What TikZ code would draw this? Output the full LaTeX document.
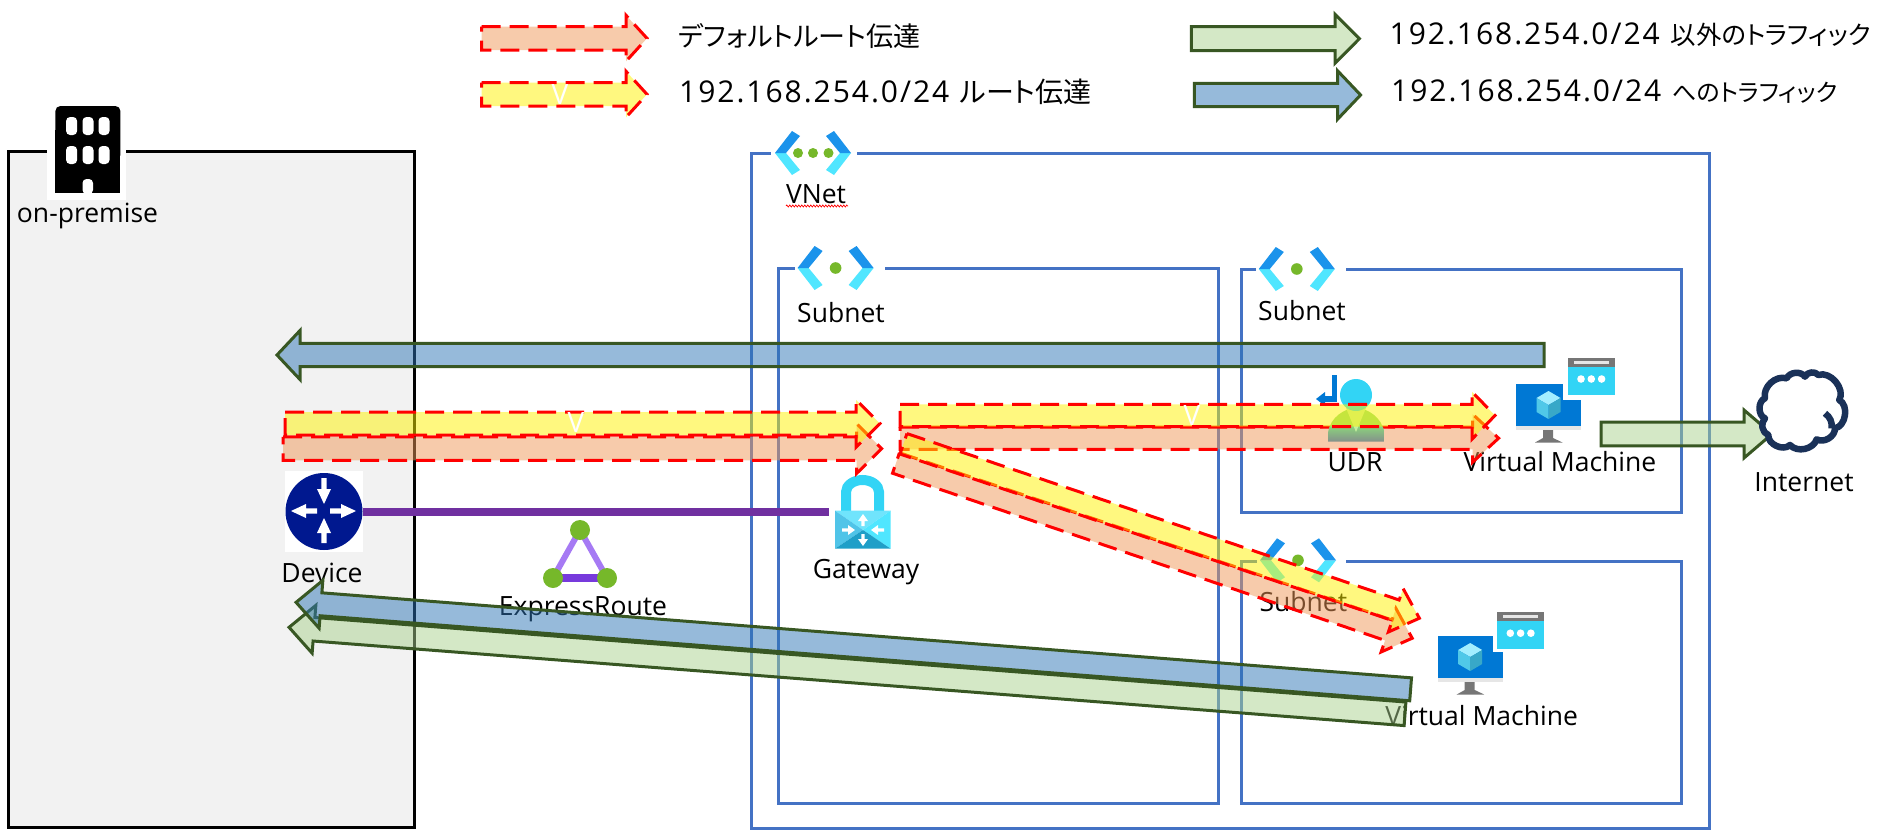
\documentclass[tikz,border=0pt]{standalone}
\usepackage{fontspec}
\setmainfont{Open Sans}
\newfontfamily\jpfont[RawFeature=+palt]{Noto Sans CJK JP}
\newfontfamily\numfont[LetterSpace=6.5]{Open Sans}
\usetikzlibrary{calc,decorations.pathmorphing}
\definecolor{boxblue}{HTML}{4472C4}
\definecolor{dkgreen}{HTML}{385723}
\definecolor{chevdk}{HTML}{1B93EB}
\definecolor{chevlt}{HTML}{50E6FF}
\definecolor{dotgreen}{HTML}{76B82A}
\definecolor{purpleline}{HTML}{7030A0}
\definecolor{cyanicon}{HTML}{32D4F5}
\definecolor{monblue}{HTML}{0078D4}
\definecolor{navy}{HTML}{1A3158}
\definecolor{salmonf}{HTML}{F09858}
\definecolor{greenf}{HTML}{A9D18E}
\definecolor{bluef}{HTML}{2E75B6}
\definecolor{premf}{HTML}{F2F2F2}
\definecolor{routerb}{HTML}{00188F}
\definecolor{erlilac}{HTML}{A67AF4}
\definecolor{erviolet}{HTML}{773ADC}
\definecolor{udrgreen}{HTML}{8CD97B}
\definecolor{udrgray}{HTML}{84908C}
\definecolor{udrneck}{HTML}{C4EFA0}
\definecolor{cubetop}{HTML}{A3EEFF}
\definecolor{cubeleft}{HTML}{50C8E8}
\definecolor{cuberight}{HTML}{38A8C8}
\definecolor{locktop}{HTML}{70E4FC}
\definecolor{lockleft}{HTML}{50C4E8}
\definecolor{lockbot}{HTML}{1F9FC8}
\definecolor{icongray}{HTML}{767676}
\definecolor{iconlt}{HTML}{E6E6E6}
\newcommand{\jptext}[2]{{\jpfont\fontsize{#1}{28}\selectfont #2}}
\newcommand{\numtext}[1]{{\numfont\fontsize{30}{32}\selectfont #1}\hspace{11pt}}
\tikzset{
  x=1pt,y=1pt,
  box/.style={draw=boxblue,line width=3pt},
  defarrow/.style={draw=red,line width=3pt,dash pattern=on 19pt off 9pt,fill=salmonf,fill opacity=.5},
  yelarrow/.style={draw=red,line width=3pt,dash pattern=on 19pt off 9pt,fill=yellow,fill opacity=.5},
  grnarrow/.style={draw=dkgreen,line width=3pt,fill=greenf,fill opacity=.5},
  bluarrow/.style={draw=dkgreen,line width=3pt,fill=bluef,fill opacity=.5},
  whitearrow/.style={draw=none,fill=white},
  lbl/.style={inner sep=0pt,font=\fontsize{26.5}{28}\selectfont},
  leg/.style={inner sep=0pt,anchor=west},
  vmark/.style={inner sep=0pt,text=white,font=\fontsize{28}{28}\selectfont},
}
% tail centre, tip centre, half body, half head, head length
\newcommand{\barrow}[8]{%
  \pgfmathsetmacro{\myang}{atan2((#5)-(#3),(#4)-(#2))}%
  \pgfmathsetmacro{\mylen}{veclen(((#4)-(#2))/10,((#5)-(#3))/10)*10}%
  \pgfmathsetmacro{\mybase}{\mylen-(#8)}%
  \draw[#1,shift={(#2,#3)},rotate=\myang] (0,-#6) -- (\mybase,-#6) -- (\mybase,-#7) -- (\mylen,0) -- (\mybase,#7) -- (\mybase,#6) -- (0,#6) -- cycle;}
% network icon: centre
\newcommand{\chevrons}[2]{%
  \begin{scope}[shift={(#1,#2)}]
    \fill[chevlt] (-38,0) -- (-27,0) -- (-13,17) -- (-21,22) -- cycle;
    \fill[chevlt] (38,0) -- (27,0) -- (13,17) -- (21,22) -- cycle;
    \fill[chevdk] (-38,0) -- (-21,-22) -- (-13,-17) -- (-27,0) -- cycle;
    \fill[chevdk] (38,0) -- (21,-22) -- (13,-17) -- (27,0) -- cycle;
  \end{scope}}
% monitor x,y; window x,y; notch width
\newcommand{\vmicon}[5]{%
  \begin{scope}[shift={(#1,#2)}]
    \fill[iconlt] (0,41) rectangle (65,46);
    \fill[monblue] (0,0) rectangle (65,41.5);
    \fill[white] (65-#5,-1) rectangle (66,16);
    \fill[icongray] (27,46) -- (37,46) -- (37,54) -- (46.5,58.5) -- (19,58.5) -- (27,54) -- cycle;
    \begin{scope}[shift={(32.5,21)}]
      \fill[cubetop] (0,-14) -- (12,-7) -- (0,0) -- (-12,-7) -- cycle;
      \fill[cubeleft] (-12,-7) -- (0,0) -- (0,14) -- (-12,7) -- cycle;
      \fill[cuberight] (12,-7) -- (0,0) -- (0,14) -- (12,7) -- cycle;
    \end{scope}
  \end{scope}
  \begin{scope}[shift={(#3,#4)}]
    \fill[cyanicon] (0,0) rectangle (46.5,37);
    \fill[icongray] (0,0) rectangle (46.5,9.5);
    \fill[iconlt] (6,3) rectangle (40.5,6.5);
    \fill[white] (13,21.5) circle (3.8) (23.3,21.5) circle (3.8) (33.6,21.5) circle (3.8);
  \end{scope}}
\begin{document}
\begin{tikzpicture}[yscale=-1]
\useasboundingbox (0,0) rectangle (1888,838);
% on-premise
\node[draw=black,line width=3pt,fill=premf,minimum width=406.5pt,minimum height=675.5pt,inner sep=0pt] (onprem) at (211.7,489.3) {};
\fill[white] (47,118) rectangle (126,200);
\fill[black,rounded corners=5pt] (55.4,106) rectangle (120.4,160);
\fill[black] (55.4,130) rectangle (120.4,193);
\foreach \wx in {71.6,88,104}{
  \fill[white,rounded corners=4pt] (\wx-5.5,117) rectangle (\wx+5.5,135);
  \fill[white,rounded corners=4pt] (\wx-5.5,146) rectangle (\wx+5.5,164);}
\fill[white,rounded corners=4pt] (82.5,194) -- (82.5,179) -- (93,179) -- (93,194) -- cycle;
\node[lbl] (onpremlbl) at (87.5,216) {on-premise};
% vnet and subnets
\node[box,minimum width=958pt,minimum height=674.7pt,inner sep=0pt] (vnet) at (1230,490.7) {};
\node[box,minimum width=440pt,minimum height=535pt,inner sep=0pt] (subneta) at (998.5,535.8) {};
\node[box,minimum width=440pt,minimum height=243pt,inner sep=0pt] (subnetb) at (1461.5,390.8) {};
\node[box,minimum width=440pt,minimum height=241.6pt,inner sep=0pt] (subnetc) at (1461.5,682.5) {};
\fill[white] (770.6,146) rectangle (857,160);
\fill[white] (795,262) rectangle (885,275);
\fill[white] (1256,262) rectangle (1346,276);
\fill[white] (1257,555) rectangle (1346,568);
\chevrons{813}{153}
\fill[dotgreen] (798,153) circle (5) (813,153) circle (5) (828.5,153) circle (5);
\chevrons{835.6}{268}
\fill[dotgreen] (835.6,268) circle (5.8);
\chevrons{1296.8}{269}
\fill[dotgreen] (1296.8,269) circle (5.8);
\chevrons{1298}{560.3}
\fill[dotgreen] (1298,560.3) circle (5.8);
\node[lbl] (vnetlbl) at (816,194) {VNet};
\draw[red,line width=.7pt,decorate,decoration={zigzag,amplitude=1pt,segment length=3pt}] (786,206) -- (848,206);
\node[lbl] (subalbl) at (841,313) {Subnet};
\node[lbl] (subblbl) at (1302,311) {Subnet};
\node[lbl] (subclbl) at (1303.4,602) {Subnet};
% device
\fill[white] (285,470.7) rectangle (363,551.7);
\node[circle,fill=routerb,minimum size=77pt,inner sep=0pt] (device) at (324,511.5) {};
\barrow{whitearrow}{324}{478}{324}{504}{2.6}{7}{15}
\barrow{whitearrow}{324}{543}{324}{518}{2.6}{7}{15}
\barrow{whitearrow}{317}{511}{291}{511}{2.6}{7}{15}
\barrow{whitearrow}{330}{511}{356}{511}{2.6}{7}{15}
\node[lbl] (devicelbl) at (322,573) {Device};
% gateway
\draw[cyanicon,line width=10pt] (846,511) -- (846,492) arc[start angle=180,end angle=360,x radius=16.5,y radius=12] -- (879,511);
\coordinate (lockc) at (863,530);
\fill[locktop] (835,510.7) -- (890.7,510.7) -- (lockc) -- cycle;
\fill[lockleft] (835,510.7) -- (835,548.7) -- (lockc) -- cycle;
\fill[chevlt] (890.7,510.7) -- (890.7,548.7) -- (lockc) -- cycle;
\fill[lockbot] (835,548.7) -- (890.7,548.7) -- (lockc) -- cycle;
\node[inner sep=0pt,minimum size=0pt] (gateway) at (829,511.5) {};
\barrow{whitearrow}{863}{526}{863}{514}{1.6}{5}{7}
\barrow{whitearrow}{863}{534}{863}{546}{1.6}{5}{7}
\barrow{whitearrow}{842}{530}{855}{530}{1.6}{5}{7}
\barrow{whitearrow}{884}{530}{871}{530}{1.6}{5}{7}
\node[lbl] (gatewaylbl) at (866,572) {Gateway};
\draw[purpleline,line width=8pt] (device.east) -- (gateway.center);
% expressroute
\coordinate (ertop) at (580,530);
\coordinate (erleft) at (553,578);
\coordinate (erright) at (607,578);
\draw[erlilac,line width=6pt] (erleft) -- (ertop) -- (erright);
\draw[erviolet,line width=8pt] (erleft) -- (erright);
\fill[dotgreen] (ertop) circle (10) (erleft) circle (10) (erright) circle (10);
\node[lbl] (erlbl) at (583,609) {ExpressRoute};
\node[lbl] (udrlbl) at (1355,462) {UDR};
% virtual machines
\vmicon{1516}{384}{1568}{357.5}{18}
\node[lbl] (vmalbl) at (1560,462) {Virtual Machine};
\vmicon{1437.7}{636}{1497.3}{611.7}{9.4}
\node[lbl] (vmblbl) at (1481.6,716) {Virtual Machine};
% legend
\barrow{defarrow}{481.6}{38.3}{647}{38.3}{11.7}{23}{21}
\barrow{yelarrow}{481.6}{94.3}{647}{94.3}{11.7}{23}{21}
\node[vmark] (v1) at (560,95) {V};
\node[leg] (leg1) at (678.5,36) {\jptext{27}{デフォルトルート伝達}};
\node[leg] (leg2) at (679,92) {\numtext{192.168.254.0/24}\jptext{28}{ルート伝達}};
\barrow{grnarrow}{1191.4}{38.7}{1359.4}{38.7}{12}{24.5}{24.4}
\barrow{bluarrow}{1194.4}{95}{1360.6}{95}{11.7}{24.2}{23}
\node[leg] (leg3) at (1389.5,35) {\numtext{192.168.254.0/24}\jptext{25.4}{以外のトラフィック}};
\node[leg] (leg4) at (1391,92) {\numtext{192.168.254.0/24}\jptext{24}{へのトラフィック}};
% traffic arrows
\barrow{bluarrow}{1544}{355}{277}{355}{11.7}{24.5}{23}
\barrow{defarrow}{283}{448.6}{881.7}{448.6}{11.7}{24.8}{25}
\barrow{yelarrow}{285}{423.6}{880}{423.6}{11.4}{23.7}{24}
\node[vmark] (v2) at (576,423) {V};
\barrow{defarrow}{900}{438.2}{1498.6}{438.2}{11.2}{24}{26}
% udr icon sits over the salmon arrow, under the yellow one
\shade[top color=udrgreen,bottom color=udrgray,middle color=udrgreen] (1328,441.7) -- (1328,433) .. controls (1330,417) and (1345,408) .. (1356,408) .. controls (1367,408) and (1382,417) .. (1384.5,433) -- (1384.5,441.7) -- cycle;
\fill[udrneck] (1346,408) -- (1366,408) -- (1356,432) -- cycle;
\fill[cyanicon] (1356,395) circle (16);
\draw[monblue,line width=5.5pt] (1334.5,375) -- (1334.5,399) -- (1322,399);
\fill[monblue] (1316,399) -- (1325,392) -- (1325,406) -- cycle;
\barrow{yelarrow}{900}{415.5}{1495}{415.5}{11.2}{23.7}{23}
\node[vmark] (v3) at (1192,416) {V};
\barrow{defarrow}{896}{463}{1412.4}{638.3}{10.8}{23}{25}
\barrow{yelarrow}{903.5}{443.8}{1419.6}{618.3}{10.8}{23}{25}
\barrow{grnarrow}{1405}{713.8}{289}{627.3}{11.8}{24}{25}
\barrow{bluarrow}{1410.6}{689.3}{296}{602.3}{11.5}{24}{25}
\barrow{grnarrow}{1601}{434}{1772}{434}{11.8}{24}{28}
% cloud
\begin{scope}[shift={(1590,350)},scale=.3333]
  \draw[navy,line width=6.5pt,fill=white,line join=round]
    (525,145) to[bend right=60] (590,85) to[bend right=60] (645,80) to[bend right=60] (685,75)
    to[bend right=70] (748,150) to[bend right=70] (735,235) to[bend right=60] (680,268)
    to[bend right=60] (600,285) to[bend right=70] (535,255) to[bend right=60] (525,205)
    to[bend right=70] cycle;
  \draw[navy,line width=6.5pt] (705,190) to[bend right=30] (725,235);
\end{scope}
\node[lbl] (inetlbl) at (1804,482) {Internet};
\end{tikzpicture}
\end{document}
